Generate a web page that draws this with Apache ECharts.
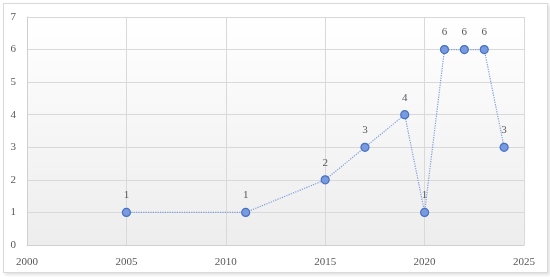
<!DOCTYPE html>
<html><head><meta charset="utf-8">
<script src="https://cdn.jsdelivr.net/npm/echarts@6/dist/echarts.min.js"></script>
<style>
html,body{margin:0;padding:0;background:#fff;}
#frame{position:absolute;left:3px;top:3px;width:543px;height:268px;border:1px solid #d9d9d9;box-shadow:2px 2px 3px rgba(0,0,0,0.12);background:#fff;}
#chart{position:absolute;left:0;top:0;width:550px;height:277px;}
</style>
</head><body>
<div id="frame"></div>
<div id="chart"></div>
<script>
const years = [2005, 2011, 2015, 2017, 2019, 2020, 2021, 2022, 2023, 2024];
const counts = [1, 1, 2, 3, 4, 1, 6, 6, 6, 3];
const xTicks = [2000, 2005, 2010, 2015, 2020, 2025];
const yTicks = [0, 1, 2, 3, 4, 5, 6, 7];

const chart = echarts.init(document.getElementById('chart'), null, {renderer:'canvas'});
const font = "'Liberation Serif', 'DejaVu Serif', serif";
chart.setOption({
  animation:false,
  grid:{left:27,right:26,top:17,bottom:32,show:true,borderWidth:0,
    backgroundColor:{type:'linear',x:0,y:0,x2:0,y2:1,colorStops:[{offset:0,color:'#ffffff'},{offset:1,color:'#ededed'}]}},
  xAxis:{type:'value',min:xTicks[0],max:xTicks[xTicks.length-1],interval:5,
    axisLine:{show:true,lineStyle:{color:'#d0d0d0'}},axisTick:{show:false},
    splitLine:{show:true,lineStyle:{color:'#d9d9d9',width:1}},
    axisLabel:{color:'#595959',fontFamily:font,fontSize:11,margin:12,formatter:v=>String(v)}},
  yAxis:{type:'value',min:yTicks[0],max:yTicks[yTicks.length-1],interval:1,
    axisLine:{show:true,lineStyle:{color:'#d0d0d0'}},axisTick:{show:false},
    splitLine:{show:true,lineStyle:{color:'#d9d9d9',width:1}},
    axisLabel:{color:'#595959',fontFamily:font,fontSize:11,margin:11}},
  series:[{type:'line',data:years.map((y,i)=>[y,counts[i]]),
    lineStyle:{type:'dotted',color:'#7f9fdc',width:1.2},
    symbol:'circle',symbolSize:8,
    itemStyle:{color:'#7a9ae0',borderColor:'#4472c4',borderWidth:1.2},
    label:{show:true,position:'top',distance:7,color:'#595959',fontFamily:font,fontSize:11}}]
});
</script>
</body></html>
